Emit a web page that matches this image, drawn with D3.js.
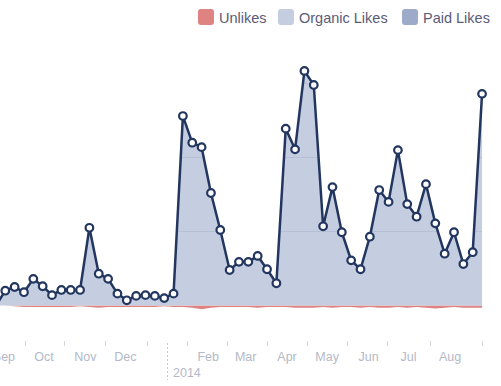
<!DOCTYPE html>
<html>
<head>
<meta charset="utf-8">
<script src="https://cdn.jsdelivr.net/npm/d3@7"></script>
<style>
  body { margin: 0; background: #fff; }
  svg { display: block; font-family: "Liberation Sans", Arial, sans-serif; }
  .legend text { font-size: 14.5px; fill: #5a5b78; }
  .x-axis text { font-size: 12.5px; fill: #b3b9c7; }
</style>
</head>
<body>
<div id="chart"></div>
<script>
// weekly points
const WEEKS = [
  "2013-08-26", "2013-09-02", "2013-09-09", "2013-09-16", "2013-09-23", "2013-09-30",
  "2013-10-07", "2013-10-14", "2013-10-21", "2013-10-28", "2013-11-04", "2013-11-11",
  "2013-11-18", "2013-11-25", "2013-12-02", "2013-12-09", "2013-12-16", "2013-12-23",
  "2013-12-30", "2014-01-06", "2014-01-13", "2014-01-20", "2014-01-27", "2014-02-03",
  "2014-02-10", "2014-02-17", "2014-02-24", "2014-03-03", "2014-03-10", "2014-03-17",
  "2014-03-24", "2014-03-31", "2014-04-07", "2014-04-14", "2014-04-21", "2014-04-28",
  "2014-05-05", "2014-05-12", "2014-05-19", "2014-05-26", "2014-06-02", "2014-06-09",
  "2014-06-16", "2014-06-23", "2014-06-30", "2014-07-07", "2014-07-14", "2014-07-21",
  "2014-07-28", "2014-08-04", "2014-08-11", "2014-08-18", "2014-08-25",
];

const organicLikes = [
  0, 20, 25, 18, 36, 26, 14, 21, 21, 21, 105, 43, 36, 16, 7, 13, 14, 13, 10,
  16, 256, 220, 214, 152, 102, 48, 59, 59, 67, 49, 30, 239, 211, 317, 298,
  107, 160, 99, 61, 49, 93, 156, 140, 210, 137, 120, 164, 111, 70, 99, 56,
  72, 286,
];

const paidLikes = [
  0, 0, 0, 0, 0, 0, 0, 0, 0, 0, 0, 0, 0, 0, 0, 0, 0, 0, 0, 0, 0, 0, 0, 0, 0,
  0, 0, 0, 0, 0, 0, 0, 0, 0, 0, 0, 0, 0, 0, 0, 0, 0, 0, 0, 0, 0, 0, 0, 0, 0,
  0, 0, 0,
];

const unlikes = [
  0, 0, 1, 2, 2, 2, 2, 2, 2, 1, 2, 3, 2, 2, 2, 2, 2, 2, 1, 2, 2, 3, 5, 3, 2,
  2, 2, 2, 3, 2, 2, 2, 3, 3, 3, 2, 3, 2, 2, 3, 2, 3, 3, 2, 3, 2, 3, 4, 3, 2,
  3, 3, 3,
];

const MONTH_LABELS = [
  ["2013-09-01", "Sep"], ["2013-10-01", "Oct"], ["2013-11-01", "Nov"],
  ["2013-12-01", "Dec"], ["2014-02-01", "Feb"], ["2014-03-01", "Mar"],
  ["2014-04-01", "Apr"], ["2014-05-01", "May"], ["2014-06-01", "Jun"],
  ["2014-07-01", "Jul"], ["2014-08-01", "Aug"],
];
const TICK_DATES = [
  "2013-09-17", "2013-10-16", "2013-11-16", "2013-12-17", "2014-01-16",
  "2014-02-15", "2014-03-17", "2014-04-16", "2014-05-16", "2014-06-15",
  "2014-07-17", "2014-08-25",
];
const YEAR_MARK = ["2014-01-01", "2014"];
const GRID_VALUES = [100, 200, 300];

const LEGEND = [
  { name: "Unlikes", color: "#df8282" },
  { name: "Organic Likes", color: "#c5cde0" },
  { name: "Paid Likes", color: "#9eaaca" },
];

const parseDate = d3.utcParse("%Y-%m-%d");
const width = 501,
  height = 386;
const lineColor = "#22365f";

const data = WEEKS.map((w, i) => ({
  date: parseDate(w),
  organic: organicLikes[i],
  paid: paidLikes[i],
  unlikes: unlikes[i],
}));

const svg = d3
  .select("#chart")
  .append("svg")
  .attr("width", width)
  .attr("height", height);

const xScale = d3
  .scaleUtc()
  .domain([parseDate("2013-10-01"), parseDate("2014-08-01")])
  .range([44, 450]);

const yScale = d3.scaleLinear().domain([0, 400]).range([305.5, 9.5]);

// clip everything to the svg
svg
  .append("clipPath")
  .attr("id", "plot-clip")
  .append("rect")
  .attr("width", width)
  .attr("height", 340);

const plot = svg.append("g").attr("clip-path", "url(#plot-clip)");

const organicArea = d3
  .area()
  .x((d) => xScale(d.date))
  .y0(yScale(0))
  .y1((d) => yScale(d.organic));

const paidArea = d3
  .area()
  .x((d) => xScale(d.date))
  .y0((d) => yScale(d.organic))
  .y1((d) => yScale(d.organic + d.paid));

const unlikeArea = d3
  .area()
  .x((d) => xScale(d.date))
  .y0(yScale(0))
  .y1((d) => yScale(-d.unlikes));

const totalLine = d3
  .line()
  .x((d) => xScale(d.date))
  .y((d) => yScale(d.organic + d.paid));

plot
  .append("path")
  .attr("d", unlikeArea(data))
  .attr("fill", LEGEND[0].color);

plot
  .append("path")
  .attr("d", organicArea(data))
  .attr("fill", LEGEND[1].color);

plot
  .append("path")
  .attr("d", paidArea(data))
  .attr("fill", LEGEND[2].color);

// grid lines only show where they cross the filled area
svg
  .append("clipPath")
  .attr("id", "area-clip")
  .append("path")
  .attr("d", organicArea(data));

plot
  .append("g")
  .attr("clip-path", "url(#area-clip)")
  .selectAll("line")
  .data(GRID_VALUES)
  .join("line")
  .attr("x1", 0)
  .attr("x2", width)
  .attr("y1", (d) => yScale(d))
  .attr("y2", (d) => yScale(d))
  .attr("stroke", "#b6c0d4")
  .attr("stroke-width", 1);

plot
  .append("path")
  .attr("d", totalLine(data))
  .attr("fill", "none")
  .attr("stroke", lineColor)
  .attr("stroke-width", 2.5)
  .attr("stroke-linejoin", "round");

plot
  .selectAll(".dot")
  .data(data.slice(1))
  .join("circle")
  .attr("class", "dot")
  .attr("cx", (d) => xScale(d.date))
  .attr("cy", (d) => yScale(d.organic + d.paid))
  .attr("r", 3.8)
  .attr("fill", "#fff")
  .attr("stroke", lineColor)
  .attr("stroke-width", 2.2);

// x axis
const xAxis = svg.append("g").attr("class", "x-axis");

xAxis
  .selectAll(".tick")
  .data(TICK_DATES.map(parseDate))
  .join("line")
  .attr("class", "tick")
  .attr("x1", (d) => Math.round(xScale(d)) + 0.5)
  .attr("x2", (d) => Math.round(xScale(d)) + 0.5)
  .attr("y1", 341)
  .attr("y2", 346)
  .attr("stroke", "#d3d7df");

xAxis
  .selectAll(".month")
  .data(MONTH_LABELS)
  .join("text")
  .attr("class", "month")
  .attr("x", (d) => xScale(parseDate(d[0])))
  .attr("y", 361)
  .attr("text-anchor", "middle")
  .text((d) => d[1]);

const yearX = Math.round(xScale(parseDate(YEAR_MARK[0]))) + 0.5;
xAxis
  .append("line")
  .attr("x1", yearX)
  .attr("x2", yearX)
  .attr("y1", 343)
  .attr("y2", 380)
  .attr("stroke", "#c3c8d2")
  .attr("stroke-dasharray", "2,2");

xAxis
  .append("text")
  .attr("x", yearX + 5.5)
  .attr("y", 377)
  .text(YEAR_MARK[1]);

// legend
const legendX = [198, 278, 402];
const legend = svg
  .append("g")
  .attr("class", "legend")
  .selectAll("g")
  .data(LEGEND)
  .join("g")
  .attr("transform", (d, i) => `translate(${legendX[i]}, 9)`);

legend
  .append("rect")
  .attr("width", 16)
  .attr("height", 16)
  .attr("rx", 3)
  .attr("fill", (d) => d.color);

legend
  .append("text")
  .attr("x", 21)
  .attr("y", 14)
  .text((d) => d.name);
</script>
</body>
</html>
